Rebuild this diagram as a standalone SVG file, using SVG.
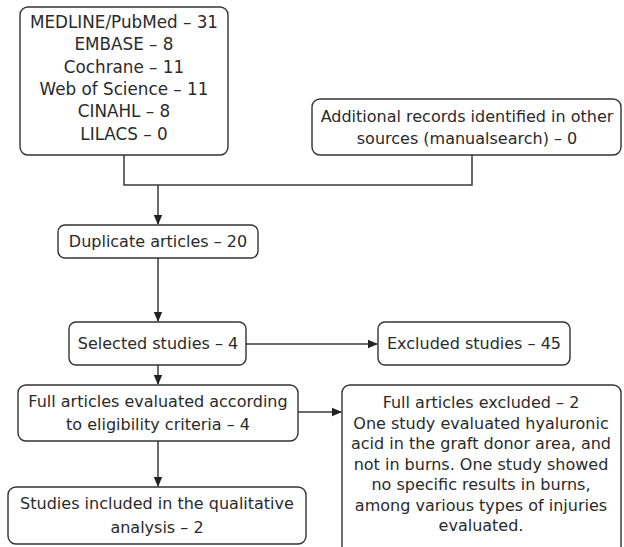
<svg xmlns="http://www.w3.org/2000/svg" width="624" height="547" viewBox="0 0 624 547">
<style>
.box{fill:#fff;stroke:#333;stroke-width:1.4}
.t{font-family:"DejaVu Sans","Liberation Sans",sans-serif;font-size:16px;fill:#2a2a2a;text-anchor:middle}
.big{font-size:16.8px}
.c{fill:none;stroke:#3a3a3a;stroke-width:1.5}
</style>
<defs>
<marker id="ah" markerWidth="10" markerHeight="10" refX="9" refY="5" orient="auto" markerUnits="userSpaceOnUse">
<path d="M0,0.8 L10,5 L0,9.2 Z" fill="#222"/>
</marker>
</defs>
<rect width="624" height="547" fill="#fff"/>
<g id="connectors">
<polyline class="c" points="124,155 124,185 472,185 472,155"/>
<line class="c" x1="158" y1="185" x2="158" y2="224" marker-end="url(#ah)"/>
<line class="c" x1="158" y1="258" x2="158" y2="321" marker-end="url(#ah)"/>
<line class="c" x1="246" y1="344" x2="377" y2="344" marker-end="url(#ah)"/>
<line class="c" x1="158" y1="365" x2="158" y2="384" marker-end="url(#ah)"/>
<line class="c" x1="298" y1="412" x2="341" y2="412" marker-end="url(#ah)"/>
<line class="c" x1="158" y1="441" x2="158" y2="486" marker-end="url(#ah)"/>
</g>
<g id="databases">
<rect class="box" x="20" y="7" width="208" height="148" rx="8"/>
<text class="t big" x="124" y="28">MEDLINE/PubMed – 31</text>
<text class="t big" x="124" y="50">EMBASE – 8</text>
<text class="t big" x="124" y="73">Cochrane – 11</text>
<text class="t big" x="124" y="95">Web of Science – 11</text>
<text class="t big" x="124" y="117">CINAHL – 8</text>
<text class="t big" x="124" y="140">LILACS – 0</text>
</g>
<g id="additional">
<rect class="box" x="312" y="99" width="309" height="56" rx="8"/>
<text class="t" x="467" y="122">Additional records identified in other</text>
<text class="t" x="467" y="144">sources (manualsearch) – 0</text>
</g>
<g id="duplicate">
<rect class="box" x="58" y="225" width="200" height="33" rx="7"/>
<text class="t" x="158" y="247">Duplicate articles – 20</text>
</g>
<g id="selected">
<rect class="box" x="69" y="322" width="177" height="43" rx="7"/>
<text class="t" x="158" y="349">Selected studies – 4</text>
</g>
<g id="excluded">
<rect class="box" x="378" y="322" width="192" height="43" rx="7"/>
<text class="t" x="474" y="349">Excluded studies – 45</text>
</g>
<g id="fullarticles">
<rect class="box" x="18" y="385" width="280" height="56" rx="8"/>
<text class="t" x="158" y="407">Full articles evaluated according</text>
<text class="t" x="158" y="430">to eligibility criteria – 4</text>
</g>
<g id="fullexcluded">
<rect class="box" x="342" y="385" width="279" height="180" rx="8"/>
<text class="t" x="481" y="408">Full articles excluded – 2</text>
<text class="t" x="481" y="428.5">One study evaluated hyaluronic</text>
<text class="t" x="481" y="449">acid in the graft donor area, and</text>
<text class="t" x="481" y="469.5">not in burns. One study showed</text>
<text class="t" x="481" y="490">no specific results in burns,</text>
<text class="t" x="481" y="510.5">among various types of injuries</text>
<text class="t" x="481" y="531">evaluated.</text>
</g>
<g id="included">
<rect class="box" x="8" y="487" width="298" height="57" rx="8"/>
<text class="t" x="157" y="509">Studies included in the qualitative</text>
<text class="t" x="157" y="533">analysis – 2</text>
</g>
</svg>
